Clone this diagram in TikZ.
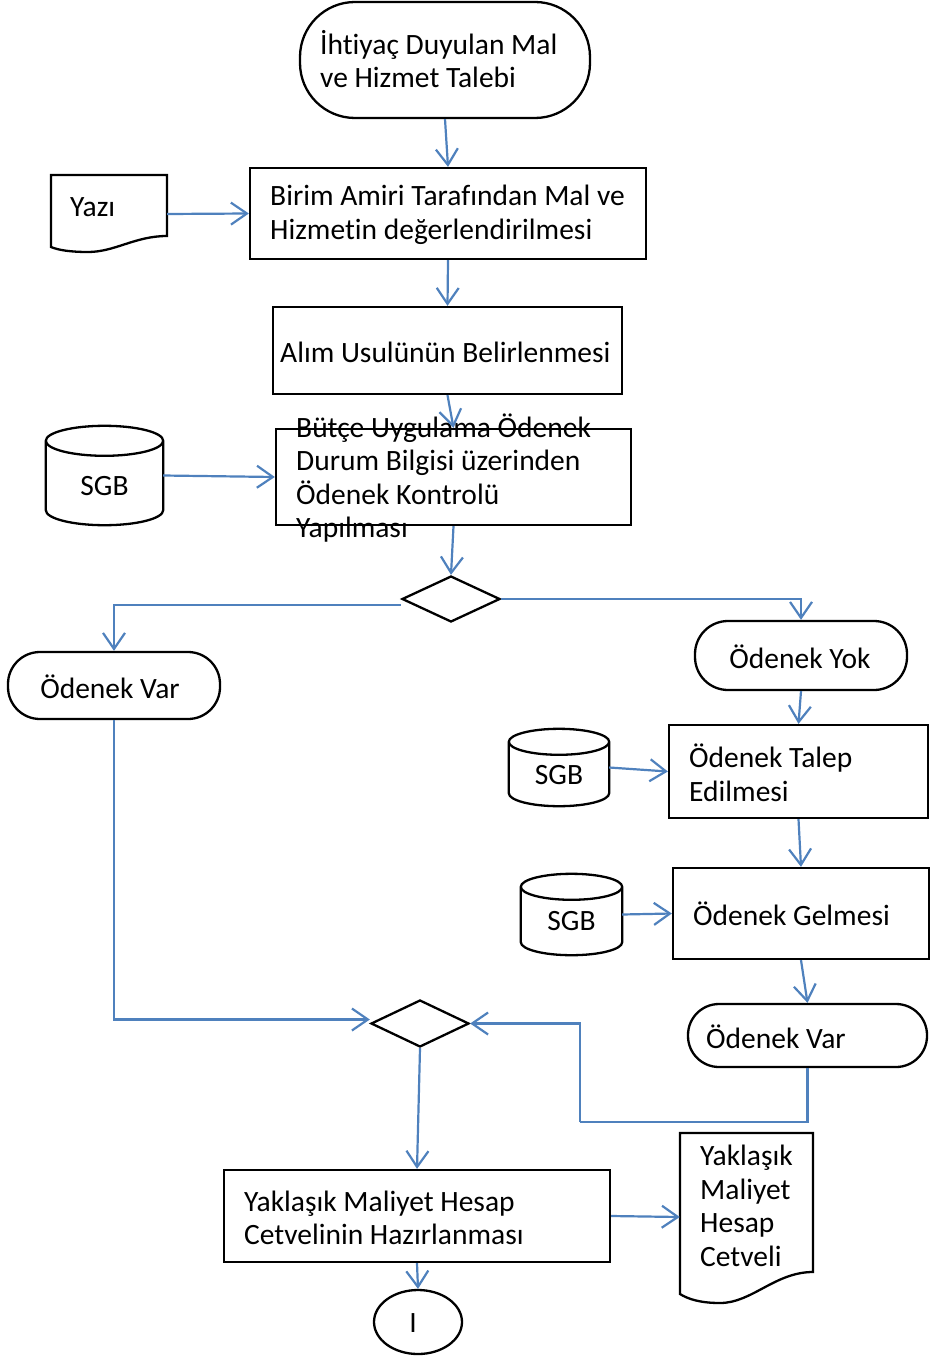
\documentclass[tikz,border=0pt]{standalone}
\usepackage{fontspec}
\setmainfont{Carlito}[Ligatures={NoCommon}]
\usetikzlibrary{arrows.meta,shapes.geometric,calc}
\definecolor{flowblue}{RGB}{79,129,189}
\newcommand\drawcyl[2]{%
  \draw[outl] let \p1=(#1.north west), \p2=(#1.south east), \n1={(\x2-\x1)/2} in
    (\x1,\y1-#2) -- (\x1,\y2+#2)
    arc[start angle=180,end angle=360,x radius=\n1,y radius=#2]
    -- (\x2,\y1-#2)
    arc[start angle=0,end angle=180,x radius=\n1,y radius=#2]
    arc[start angle=180,end angle=360,x radius=\n1,y radius=#2];}
\begin{document}
\begin{tikzpicture}[x=1pt,y=-1pt,
  outl/.style={draw=black,line width=2.3pt},
  box/.style={outl,rectangle,inner sep=0pt},
  term/.style={outl,rectangle,inner sep=0pt},
  ghost/.style={rectangle,inner sep=0pt,draw=none},
  dia/.style={outl,diamond,inner sep=0pt,aspect=2.1},
  txt/.style={inner sep=0pt,align=left,font=\fontsize{29.5pt}{33.6pt}\selectfont},
  flow/.style={draw=flowblue,line width=2.2pt,-{Straight Barb[length=16pt,width=22pt,line width=2.2pt]}},
  line/.style={draw=flowblue,line width=2.2pt}]
\useasboundingbox (0,0) rectangle (929,1356);

% top terminal
\node[term,minimum width=290pt,minimum height=116pt,rounded corners=55pt] (t1) at (445,60) {};
\node[txt,anchor=west] (t1t) at (320,59) {İhtiyaç Duyulan Mal\\ve Hizmet Talebi};

% Yazi document
\node[ghost,minimum width=116pt,minimum height=78pt] (yazi) at (109,214) {};
\draw[outl] (51,175) -- (167,175) -- (167,236)
  .. controls (135,236) and (115,252) .. (88,252)
  .. controls (70,252) and (58,250) .. (51,247) -- cycle;
\node[txt,anchor=west] (yazit) at (70,207) {Yazı};

% Birim box
\node[box,minimum width=396pt,minimum height=91pt] (b1) at (448,213.5) {};
\node[txt,anchor=west] (b1t) at (270,215) {Birim Amiri Tarafından Mal ve\\Hizmetin değerlendirilmesi};

% Alim box
\node[box,minimum width=349pt,minimum height=87pt] (b2) at (447.5,350.5) {};
\node[txt,anchor=west] (b2t) at (280,352) {Alım Usulünün Belirlenmesi};

% Butce box
\node[box,minimum width=355pt,minimum height=96pt] (b3) at (453.5,477) {};
\node[txt,anchor=west] (b3t) at (296,478) {Bütçe Uygulama Ödenek\\Durum Bilgisi üzerinden\\Ödenek Kontrolü\\Yapılması};

% SGB 1
\node[ghost,minimum width=117pt,minimum height=99pt] (s1) at (104.5,475.5) {};
\drawcyl{s1}{15pt}
\node[txt] (s1t) at (104.5,486) {SGB};

% diamond 1
\node[dia,minimum width=98pt,minimum height=46pt] (d1) at (451,599) {};

% Odenek Var left
\node[term,minimum width=212pt,minimum height=67pt,rounded corners=32pt] (v1) at (114,685.5) {};
\node[txt] (v1t) at (110,687) {Ödenek Var};

% Odenek Yok
\node[term,minimum width=212pt,minimum height=69pt,rounded corners=33pt] (yok) at (801,655.5) {};
\node[txt] (yokt) at (800,657) {Ödenek Yok};

% Talep box
\node[box,minimum width=259pt,minimum height=93pt] (talep) at (798.5,771.5) {};
\node[txt,anchor=west] (talept) at (689,773) {Ödenek Talep\\Edilmesi};

% SGB 2
\node[ghost,minimum width=100pt,minimum height=77pt] (s2) at (559,767.5) {};
\drawcyl{s2}{13pt}
\node[txt] (s2t) at (559,775) {SGB};

% Gelmesi box
\node[box,minimum width=256pt,minimum height=91pt] (gel) at (801,913.5) {};
\node[txt,anchor=west] (gelt) at (693,914) {Ödenek Gelmesi};

% SGB 3
\node[ghost,minimum width=101pt,minimum height=81pt] (s3) at (571.5,914.5) {};
\drawcyl{s3}{13pt}
\node[txt] (s3t) at (571.5,921) {SGB};

% Odenek Var 2
\node[term,minimum width=239pt,minimum height=63pt,rounded corners=31pt] (v2) at (807.5,1035.5) {};
\node[txt,anchor=west] (v2t) at (706,1037) {Ödenek Var};

% diamond 2
\node[dia,minimum width=98pt,minimum height=47pt] (d2) at (420,1023.5) {};
\coordinate (c1) at (580,1122);

% Yaklasik box
\node[box,minimum width=386pt,minimum height=92pt] (ym) at (417,1216) {};
\node[txt,anchor=west] (ymt) at (244,1218) {Yaklaşık Maliyet Hesap\\Cetvelinin Hazırlanması};

% Yaklasik document
\node[ghost,minimum width=133pt,minimum height=168pt] (ymc) at (746.5,1217) {};
\draw[outl] (680,1133) -- (813,1133) -- (813,1272)
  .. controls (775,1272) and (752,1303) .. (720,1303)
  .. controls (700,1303) and (688,1299) .. (680,1294) -- cycle;
\node[txt,anchor=west] (ymct) at (700,1206) {Yaklaşık\\Maliyet\\Hesap\\Cetveli};

% connector ellipse
\node[outl,ellipse,minimum width=88pt,minimum height=64pt,inner sep=0pt] (e1) at (418,1322) {};
\node[txt] (e1t) at (413,1323) {I};

% connectors
\draw[flow] (t1.south) -- (b1.north);
\draw[flow] (yazi.east) -- (b1.west);
\draw[flow] (b1.south) -- (b2.north);
\draw[flow] (b2.south) -- (b3.north);
\draw[flow] (s1.east) -- (b3.west);
\draw[flow] (b3.south) -- (d1.north);
\draw[flow] ([yshift=-6pt]d1.west) -| (v1.north);
\draw[flow] (d1.east) -| (yok.north);
\draw[flow] (yok.south) -- (talep.north);
\draw[flow] (s2.east) -- (talep.west);
\draw[flow] (talep.south) -- (gel.north);
\draw[flow] (s3.east) -- (gel.west);
\draw[flow] (gel.south) -- (v2.north);
\draw[flow] (v1.south) |- ([yshift=4pt]d2.west);
\draw[line] (v2.south) |- (c1);
\draw[flow] (c1) |- (d2.east);
\draw[flow] (d2.south) -- (ym.north);
\draw[flow] (ym.east) -- (ymc.west);
\draw[flow] (ym.south) -- (e1.north);
\end{tikzpicture}
\end{document}
